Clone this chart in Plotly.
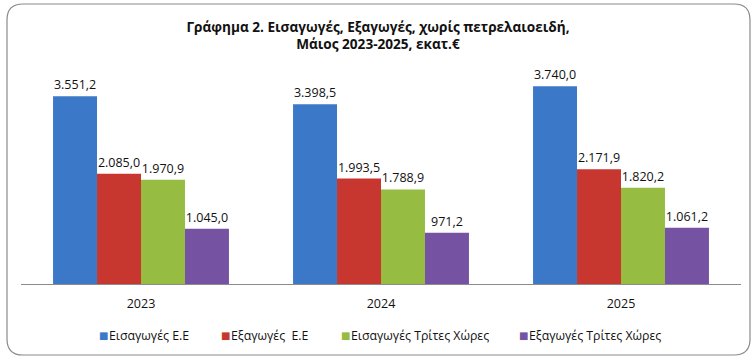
import plotly.graph_objects as go

years = ["2023", "2024", "2025"]
series_names = ["Εισαγωγές Ε.Ε", "Εξαγωγές  Ε.Ε", "Εισαγωγές Τρίτες Χώρες", "Εξαγωγές Τρίτες Χώρες"]
imports_eu = [3551.2, 3398.5, 3740.0]
exports_eu = [2085.0, 1993.5, 2171.9]
imports_third = [1970.9, 1788.9, 1820.2]
exports_third = [1045.0, 971.2, 1061.2]
colors = ["#3B79C8", "#C8372F", "#96BC42", "#7653A2"]

FONT = "'Open Sans', sans-serif"

W, H = 756, 360
L, R, T, B = 21, 15, 46, 76
pw, ph = W - L - R, H - T - B


def px(x):
    return (x - L) / pw


def py(y):
    return (H - B - y) / ph


fig = go.Figure()
for name, vals, col in zip(series_names, [imports_eu, exports_eu, imports_third, exports_third], colors):
    fig.add_trace(go.Bar(
        x=years, y=vals, name=name,
        marker=dict(color=col, line=dict(width=0)),
        texttemplate="%{y:,.1f}", textposition="outside",
        textfont=dict(size=12.5, color="#111111", family=FONT),
        cliponaxis=False, showlegend=False,
    ))

# rounded chart border
x0, x1, y0, y1, r = 7, 750, 4, 355, 16
path = (
    f"M {px(x0 + r)} {py(y0)} L {px(x1 - r)} {py(y0)} "
    f"Q {px(x1)} {py(y0)} {px(x1)} {py(y0 + r)} "
    f"L {px(x1)} {py(y1 - r)} Q {px(x1)} {py(y1)} {px(x1 - r)} {py(y1)} "
    f"L {px(x0 + r)} {py(y1)} Q {px(x0)} {py(y1)} {px(x0)} {py(y1 - r)} "
    f"L {px(x0)} {py(y0 + r)} Q {px(x0)} {py(y0)} {px(x0 + r)} {py(y0)} Z"
)

# legend built as annotations (square key + label)
legend_sq_x = [98, 220, 340, 518]
legend_y = 335
annotations = []
for name, col, sx in zip(series_names, colors, legend_sq_x):
    annotations.append(dict(
        x=px(sx - 1), y=py(legend_y), xref="paper", yref="paper",
        text="■", showarrow=False, xanchor="left", yanchor="middle",
        font=dict(size=10, color=col, family="DejaVu Sans"),
    ))
    annotations.append(dict(
        x=px(sx + 9), y=py(legend_y), xref="paper", yref="paper",
        text=name.replace("  ", "&nbsp; "), showarrow=False, xanchor="left", yanchor="middle",
        font=dict(size=12.3, color="#111111", family=FONT),
    ))

fig.update_layout(
    width=W, height=H,
    margin=dict(l=L, r=R, t=T, b=B, autoexpand=False),
    paper_bgcolor="white", plot_bgcolor="white",
    separators=",.",
    barmode="group", bargap=0.267, bargroupgap=0,
    font=dict(family=FONT, color="#111111"),
    showlegend=False,
    title=dict(
        text="<b>Γράφημα 2. Εισαγωγές, Εξαγωγές, χωρίς πετρελαιοειδή,<br>Μάιος 2023-2025, εκατ.€</b>",
        x=0.5, xanchor="center", y=1 - 31.5 / H, yanchor="middle",
        font=dict(size=13.6, family=FONT, color="#111111"),
    ),
    xaxis=dict(
        showline=True, linecolor="#8C8C8C", linewidth=1,
        ticks="", ticklabelstandoff=8,
        tickfont=dict(size=12.5, family=FONT, color="#111111"),
        showgrid=False, automargin=False,
    ),
    yaxis=dict(range=[0, 4500], visible=False, showgrid=False, automargin=False),
    annotations=annotations,
    shapes=[dict(type="path", xref="paper", yref="paper", path=path,
                 line=dict(color="#8A8A8A", width=1.2), fillcolor="rgba(0,0,0,0)", layer="below")],
)

fig.write_html(
    "out.html",
    config={"displayModeBar": False},
    post_script="document.body.style.margin='0';document.body.style.overflow='hidden';",
)
